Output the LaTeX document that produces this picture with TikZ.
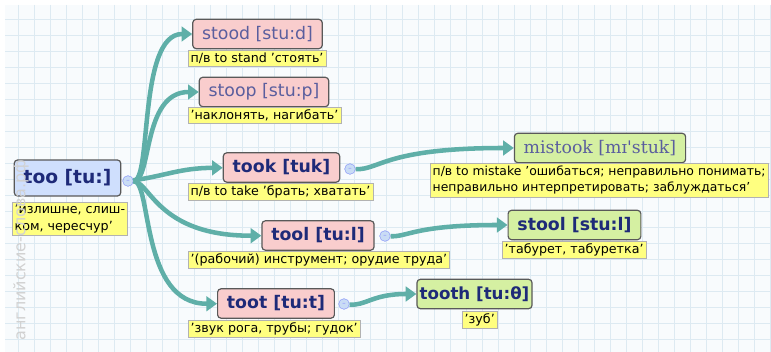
\documentclass[tikz,border=0pt]{standalone}
\usepackage{fontspec}
\setmainfont{DejaVu Sans}
\newfontfamily\wordserif{DejaVu Serif}
\usepackage{tikz}
\usetikzlibrary{arrows.meta}

\definecolor{gridblue}{HTML}{DDEAF2}
\definecolor{paper}{HTML}{F8FBFD}
\definecolor{teal}{HTML}{5FAFA8}
\definecolor{wordpink}{HTML}{F9CDCD}
\definecolor{wordblue}{HTML}{CFDFFD}
\definecolor{wordgreen}{HTML}{D5F0A2}
\definecolor{noteyellow}{HTML}{FFFF80}
\definecolor{inkdark}{HTML}{1E2A78}
\definecolor{inklight}{HTML}{5A5E9E}
\definecolor{knobblue}{HTML}{C9DCF5}

\begin{document}
\begin{tikzpicture}[x=0.75pt, y=-0.75pt]
        \tikzstyle{word} = [rectangle, draw=black!65, line width=0.9pt, rounded corners=2.5pt, minimum height=22pt, inner xsep=7pt, font=\fontsize{13}{15}\selectfont]
        \tikzstyle{strong} = [word, font=\fontsize{13}{15}\selectfont\bfseries, text=inkdark]
        \tikzstyle{weak} = [word, text=inklight]
        \tikzstyle{note} = [rectangle, draw=black!30, fill=noteyellow, anchor=north west, align=left, inner sep=1.8pt, font=\fontsize{9.5}{12.5}\selectfont]
        \tikzstyle{knob} = [circle, draw=knobblue!70!blue, fill=knobblue, inner sep=0pt, minimum size=8pt, font=\tiny, text=blue!50]
        \tikzstyle{line} = [draw, teal, line width=3.4pt, -{Triangle[length=8pt, width=11pt]}]

        % background
        \useasboundingbox (0,0) rectangle (771,352);
        \fill[white] (0,0) rectangle (771,352);
        \fill[paper] (5,5) rectangle (771,352);
        \foreach \gx in {18,34,...,770} \draw[gridblue] (\gx,5) -- (\gx,352);
        \foreach \gy in {19,35,...,339} \draw[gridblue] (5,\gy) -- (771,\gy);

        % words
        \node [strong, fill=wordblue, minimum width=79pt, minimum height=27pt, font=\fontsize{14}{16}\selectfont\bfseries] (too) at (67.5,178) {too [tu:]};
        \node [weak, fill=wordpink] (stood) at (257.5,34) {stood [stu:d]};
        \node [weak, fill=wordpink] (stoop) at (264,92) {stoop [stu:p]};
        \node [strong, fill=wordpink] (took) at (281.5,167.5) {took [tuk]};
        \node [strong, fill=wordpink] (tool) at (318,235.5) {tool [tu:l]};
        \node [strong, fill=wordpink] (toot) at (276,303.5) {toot [tu:t]};
        \node [weak, fill=wordgreen, font=\fontsize{13}{15}\wordserif] (mistook) at (600,148) {mistook [mɪ'stuk]};
        \node [strong, fill=wordgreen] (stool) at (574.5,225) {stool [stu:l]};
        \node [strong, fill=wordgreen, inner xsep=2pt, font=\fontsize{12.5}{15}\selectfont\bfseries] (tooth) at (474.5,294) {tooth [tu:θ]};

        % notes
        \node [note] (toonote) at (12,202) {'излишне, слиш-\\ком, чересчур'};
        \node [note] (stoodnote) at (188,50) {п/в to stand 'стоять'};
        \node [note] (stoopnote) at (188,107) {'наклонять, нагибать'};
        \node [note] (tooknote) at (188,183) {п/в to take 'брать; хватать'};
        \node [note] (toolnote) at (188,251) {'(рабочий) инструмент; орудие труда'};
        \node [note] (tootnote) at (188,320) {'звук рога, трубы; гудок'};
        \node [note, font=\fontsize{9.3}{12.5}\selectfont] (mistooknote) at (430,163) {п/в to mistake 'ошибаться; неправильно понимать;\\неправильно интерпретировать; заблуждаться'};
        \node [note] (stoolnote) at (502,241) {'табурет, табуретка'};
        \node [note] (toothnote) at (462,311) {'зуб'};

        % knobs
        \node [knob] (tooknob) at (128,181) {--};
        \node [knob] (tookknob) at (350,169) {--};
        \node [knob] (toolknob) at (385,236) {--};
        \node [knob] (tootknob) at (344,304) {--};

        % links
        \path [line] (tooknob) .. controls (152,181) and (138,34) .. (stood);
        \path [line] (tooknob) .. controls (152,181) and (142,92) .. (stoop);
        \path [line] (tooknob) .. controls (165,176) and (180,168) .. (took);
        \path [line] (tooknob) .. controls (150,182) and (158,236) .. (tool);
        \path [line] (tooknob) .. controls (152,181) and (140,304) .. (toot);
        \path [line] (tookknob) .. controls (380,170) and (385,148) .. (mistook);
        \path [line] (toolknob) .. controls (408,237) and (415,225) .. (stool);
        \path [line] (tootknob) .. controls (366,306) and (372,294) .. (tooth);

        \node [rotate=90, text=black!18, font=\fontsize{12}{14}\selectfont] (watermark) at (21,250) {английские-слова.рф};
    \end{tikzpicture}
\end{document}
